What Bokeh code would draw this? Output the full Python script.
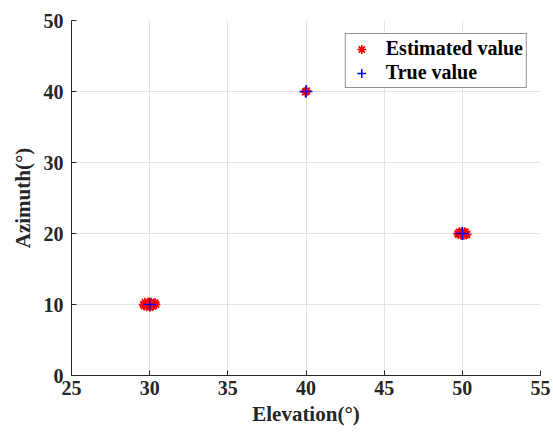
from bokeh.plotting import figure
from bokeh.models import Range1d, FixedTicker, Legend, LegendItem
from bokeh.embed import file_html
from bokeh.resources import INLINE

# True source positions
true_elev = [30, 40, 50]
true_azim = [10, 40, 20]

# Estimated values (clustered around true values)
est_elev = [29.6, 29.7, 29.8, 29.9, 30.0, 30.1, 30.2, 30.3, 30.4, 29.65, 29.85, 30.05, 30.25, 30.35,
            40.0, 40.05, 39.95, 40.0,
            49.7, 49.8, 49.9, 50.0, 50.1, 50.2, 50.3, 49.75, 49.95, 50.15, 50.25]
est_azim = [10.0, 10.3, 9.7, 10.35, 9.65, 10.3, 9.75, 10.2, 10.0, 9.8, 10.15, 9.7, 9.85, 10.25,
            40.0, 40.1, 39.9, 40.0,
            20.0, 20.2, 19.8, 20.3, 19.75, 20.15, 19.9, 19.85, 20.1, 20.25, 19.8]

x_ticks = [25, 30, 35, 40, 45, 50, 55]
y_ticks = [0, 10, 20, 30, 40, 50]

FONT = "Liberation Serif"

p = figure(width=553, height=436, output_backend="svg", toolbar_location=None,
           x_range=Range1d(25, 55), y_range=Range1d(0, 50),
           min_border_left=71, min_border_right=13, min_border_top=20, min_border_bottom=61)
p.outline_line_color = None
p.background_fill_color = "white"

for ax in (p.xaxis[0], p.yaxis[0]):
    ax.major_label_text_font = FONT
    ax.major_label_text_font_style = "bold"
    ax.major_label_text_font_size = "20px"
    ax.major_label_text_color = "#262626"
    ax.axis_label_text_font = FONT
    ax.axis_label_text_font_style = "bold"
    ax.axis_label_text_font_size = "21px"
    ax.axis_label_text_color = "#262626"
    ax.axis_line_color = "#262626"
    ax.major_tick_line_color = "#262626"
    ax.major_tick_in = 5
    ax.major_tick_out = 0
    ax.minor_tick_line_color = None

p.xaxis[0].ticker = FixedTicker(ticks=x_ticks)
p.yaxis[0].ticker = FixedTicker(ticks=y_ticks)
p.xaxis[0].axis_label = "Elevation(°)"
p.yaxis[0].axis_label = "Azimuth(°)"
p.xaxis[0].major_label_standoff = 5
p.yaxis[0].major_label_standoff = 8
p.xaxis[0].axis_label_standoff = 4
p.yaxis[0].axis_label_standoff = 6

p.xgrid.ticker = FixedTicker(ticks=x_ticks)
p.ygrid.ticker = FixedTicker(ticks=y_ticks)
p.xgrid.grid_line_color = "#e3e3e3"
p.ygrid.grid_line_color = "#e3e3e3"

r_est = p.scatter(est_elev, est_azim, marker="asterisk", size=9, line_color="#ff0000", line_width=1.6)
r_true = p.scatter(true_elev, true_azim, marker="cross", size=13, line_color="#0000ff", line_width=1.5)

legend = Legend(items=[LegendItem(label="Estimated value", renderers=[r_est]),
                       LegendItem(label="True value", renderers=[r_true])],
                location="top_right")
legend.label_text_font = FONT
legend.label_text_font_style = "bold"
legend.label_text_font_size = "20px"
legend.label_text_color = "#000000"
legend.border_line_color = "#262626"
legend.border_line_width = 1
legend.background_fill_alpha = 1
legend.margin = 13
legend.padding = 3
legend.spacing = 1
legend.glyph_width = 25
legend.label_height = 22
legend.glyph_height = 22
legend.label_standoff = 12
p.add_layout(legend)

open("out.html", "w").write(file_html(p, INLINE))
